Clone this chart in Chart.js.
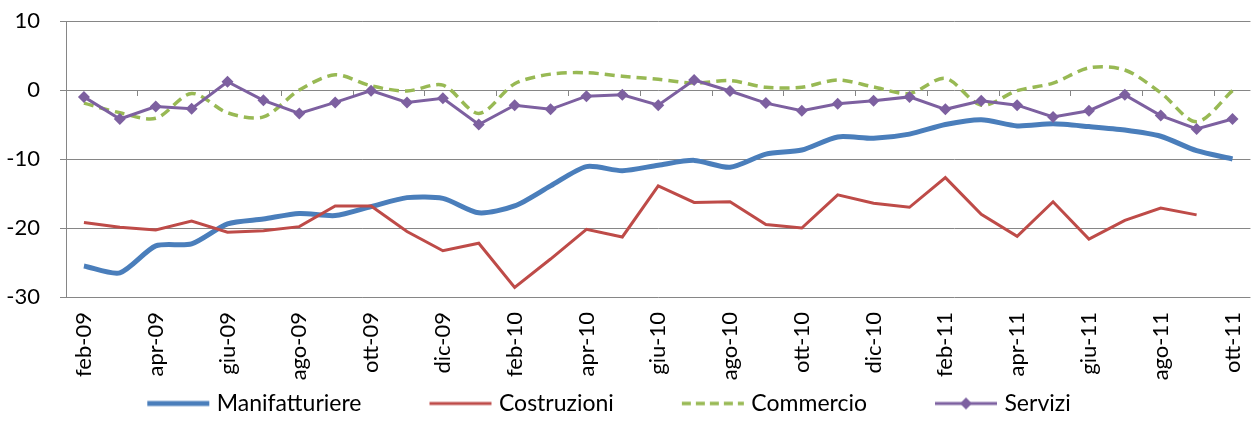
<!DOCTYPE html>
<html>
<head>
<meta charset="utf-8">
<script src="https://cdn.jsdelivr.net/npm/chart.js@4.4.1/dist/chart.umd.min.js"></script>
<style>
    html, body { margin: 0; padding: 0; background: #fff; overflow: hidden; }
    #wrap { width: 1266px; height: 426px; }
</style>
</head>
<body>
<div id="wrap"><canvas id="chart" width="1266" height="426"></canvas></div>
<script>
// mesi feb-09 .. ott-11
const MESI = [
    "feb-09", "mar-09", "apr-09", "mag-09", "giu-09", "lug-09", "ago-09", "set-09", "ott-09", "nov-09", "dic-09",
    "gen-10", "feb-10", "mar-10", "apr-10", "mag-10", "giu-10", "lug-10", "ago-10", "set-10", "ott-10", "nov-10", "dic-10",
    "gen-11", "feb-11", "mar-11", "apr-11", "mag-11", "giu-11", "lug-11", "ago-11", "set-11", "ott-11"
];

const MANIFATTURIERE = [
    -25.5, -26.5, -22.6, -22.3, -19.4, -18.7, -17.9, -18.2, -16.9, -15.6, -15.7,
    -17.8, -16.8, -13.9, -11.1, -11.7, -10.9, -10.2, -11.2, -9.3, -8.7, -6.8, -7.0,
    -6.4, -5.0, -4.3, -5.2, -4.9, -5.3, -5.8, -6.7, -8.8, -10.0
];

const COSTRUZIONI = [
    -19.2, -19.9, -20.3, -19.0, -20.6, -20.4, -19.8, -16.8, -16.8, -20.5, -23.3,
    -22.2, -28.6, -24.5, -20.2, -21.3, -13.9, -16.3, -16.2, -19.5, -20.0, -15.2, -16.4,
    -17.0, -12.7, -18.0, -21.2, -16.2, -21.6, -18.9, -17.1, -18.1, null
];

const COMMERCIO = [
    -1.9, -3.3, -4.1, -0.5, -3.3, -3.9, 0.0, 2.2, 0.6, -0.15, 0.7,
    -3.4, 0.9, 2.3, 2.5, 2.0, 1.55, 1.0, 1.35, 0.4, 0.4, 1.45, 0.45,
    -0.5, 1.7, -2.2, -0.1, 1.0, 3.2, 2.9, -0.4, -4.6, -0.1
];

const SERVIZI = [
    -1.0, -4.2, -2.4, -2.7, 1.2, -1.5, -3.4, -1.8, -0.1, -1.8, -1.2,
    -5.0, -2.2, -2.8, -0.9, -0.7, -2.2, 1.45, -0.15, -1.9, -3.0, -2.0, -1.55,
    -1.0, -2.8, -1.55, -2.2, -3.9, -3.0, -0.7, -3.7, -5.65, -4.2
];

const Y_TICKS = [-30, -20, -10, 0, 10];

const AXIS_GREY = "#868686";
const FONT = "Lato";

// campione per la legenda: parte sinistra vuota (fa da spazio), poi linea ed eventuale rombo
function legendSample(color, width, dash, marker) {
    const c = document.createElement("canvas");
    c.width = 126;
    c.height = 14;
    const ctx = c.getContext("2d");
    ctx.strokeStyle = color;
    ctx.lineWidth = width;
    ctx.setLineDash(dash || []);
    ctx.beginPath();
    ctx.moveTo(62, 7);
    ctx.lineTo(124, 7);
    ctx.stroke();
    if (marker) {
        ctx.setLineDash([]);
        ctx.fillStyle = color;
        ctx.beginPath();
        ctx.moveTo(93, 1);
        ctx.lineTo(99, 7);
        ctx.lineTo(93, 13);
        ctx.lineTo(87, 7);
        ctx.closePath();
        ctx.fill();
    }
    return c;
}

// la legenda di Excel non e' centrata sulla tela: la spostiamo un po' a sinistra
const legendShift = {
    id: "legendShift",
    afterLayout(chart) {
        chart.legend.left -= 52;
        chart.legend.right -= 52;
    },
};

const datasets = [
    {
        label: "Manifatturiere",
        data: MANIFATTURIERE,
        borderColor: "#4A7EBB",
        borderWidth: 5,
        pointRadius: 0,
        tension: 0.25,
        order: 3,
    },
    {
        label: "Costruzioni",
        data: COSTRUZIONI,
        borderColor: "#BE4B48",
        borderWidth: 3,
        pointRadius: 0,
        tension: 0,
        order: 2,
    },
    {
        label: "Commercio",
        data: COMMERCIO,
        borderColor: "#98B954",
        borderWidth: 3.5,
        borderDash: [10, 6],
        pointRadius: 0,
        tension: 0.3,
        order: 1,
    },
    {
        label: "Servizi",
        data: SERVIZI,
        borderColor: "#7D60A0",
        backgroundColor: "#7D60A0",
        borderWidth: 3,
        pointStyle: "rectRot",
        pointRadius: 6,
        pointBackgroundColor: "#7D60A0",
        pointBorderColor: "#7D60A0",
        pointBorderWidth: 0,
        tension: 0,
        order: 0,
    },
];

const samples = [
    legendSample("#4A7EBB", 5),
    legendSample("#BE4B48", 3),
    legendSample("#98B954", 3.5, [9, 5]),
    legendSample("#7D60A0", 3, null, true),
];

new Chart(document.getElementById("chart"), {
    type: "line",
    data: { labels: MESI, datasets: datasets },
    plugins: [legendShift],
    options: {
        responsive: false,
        animation: false,
        layout: { padding: { top: 21, bottom: 1, left: 0, right: 0 } },
        plugins: {
            tooltip: { enabled: false },
            legend: {
                position: "bottom",
                labels: {
                    usePointStyle: true,
                    pointStyleWidth: 114,
                    padding: 12,
                    color: "#000",
                    font: { family: FONT, size: 23 },
                    generateLabels: (chart) =>
                        chart.data.datasets.map((ds, i) => ({
                            text: ds.label,
                            pointStyle: samples[i],
                            fillStyle: ds.borderColor,
                            strokeStyle: ds.borderColor,
                            lineWidth: 0,
                            hidden: false,
                            datasetIndex: i,
                        })),
                },
            },
        },
        scales: {
            x: {
                type: "category",
                offset: true,
                grid: { display: false },
                border: { display: false },
                ticks: {
                    autoSkip: false,
                    maxRotation: 90,
                    minRotation: 90,
                    padding: 7,
                    color: "#000",
                    font: { family: FONT, size: 22 },
                    callback: function (value, index) {
                        return index % 2 === 0 ? this.getLabelForValue(value) : "";
                    },
                },
                afterFit: (scale) => { scale.height = 83; },
            },
            x0: {
                type: "category",
                position: { y: 0 },
                offset: true,
                border: { display: false },
                ticks: { display: false, autoSkip: false },
                grid: {
                    offset: true,
                    drawOnChartArea: false,
                    drawTicks: true,
                    tickLength: 6,
                    tickWidth: 1,
                    tickColor: (ctx) => (ctx.index % 2 === 0 ? AXIS_GREY : "rgba(0,0,0,0)"),
                },
            },
            y: {
                min: -30,
                max: 10,
                afterBuildTicks: (scale) => {
                    scale.ticks = Y_TICKS.map((v) => ({ value: v }));
                },
                afterFit: (scale) => {
                    scale.width = 66;
                    scale.paddingTop = 0;
                    scale.paddingBottom = 0;
                },
                grid: { color: AXIS_GREY, lineWidth: 1, tickLength: 6, tickColor: AXIS_GREY },
                border: { color: AXIS_GREY, width: 1 },
                ticks: {
                    padding: 20,
                    color: "#000",
                    font: { family: FONT, size: 22 },
                },
            },
        },
    },
});
</script>
</body>
</html>
